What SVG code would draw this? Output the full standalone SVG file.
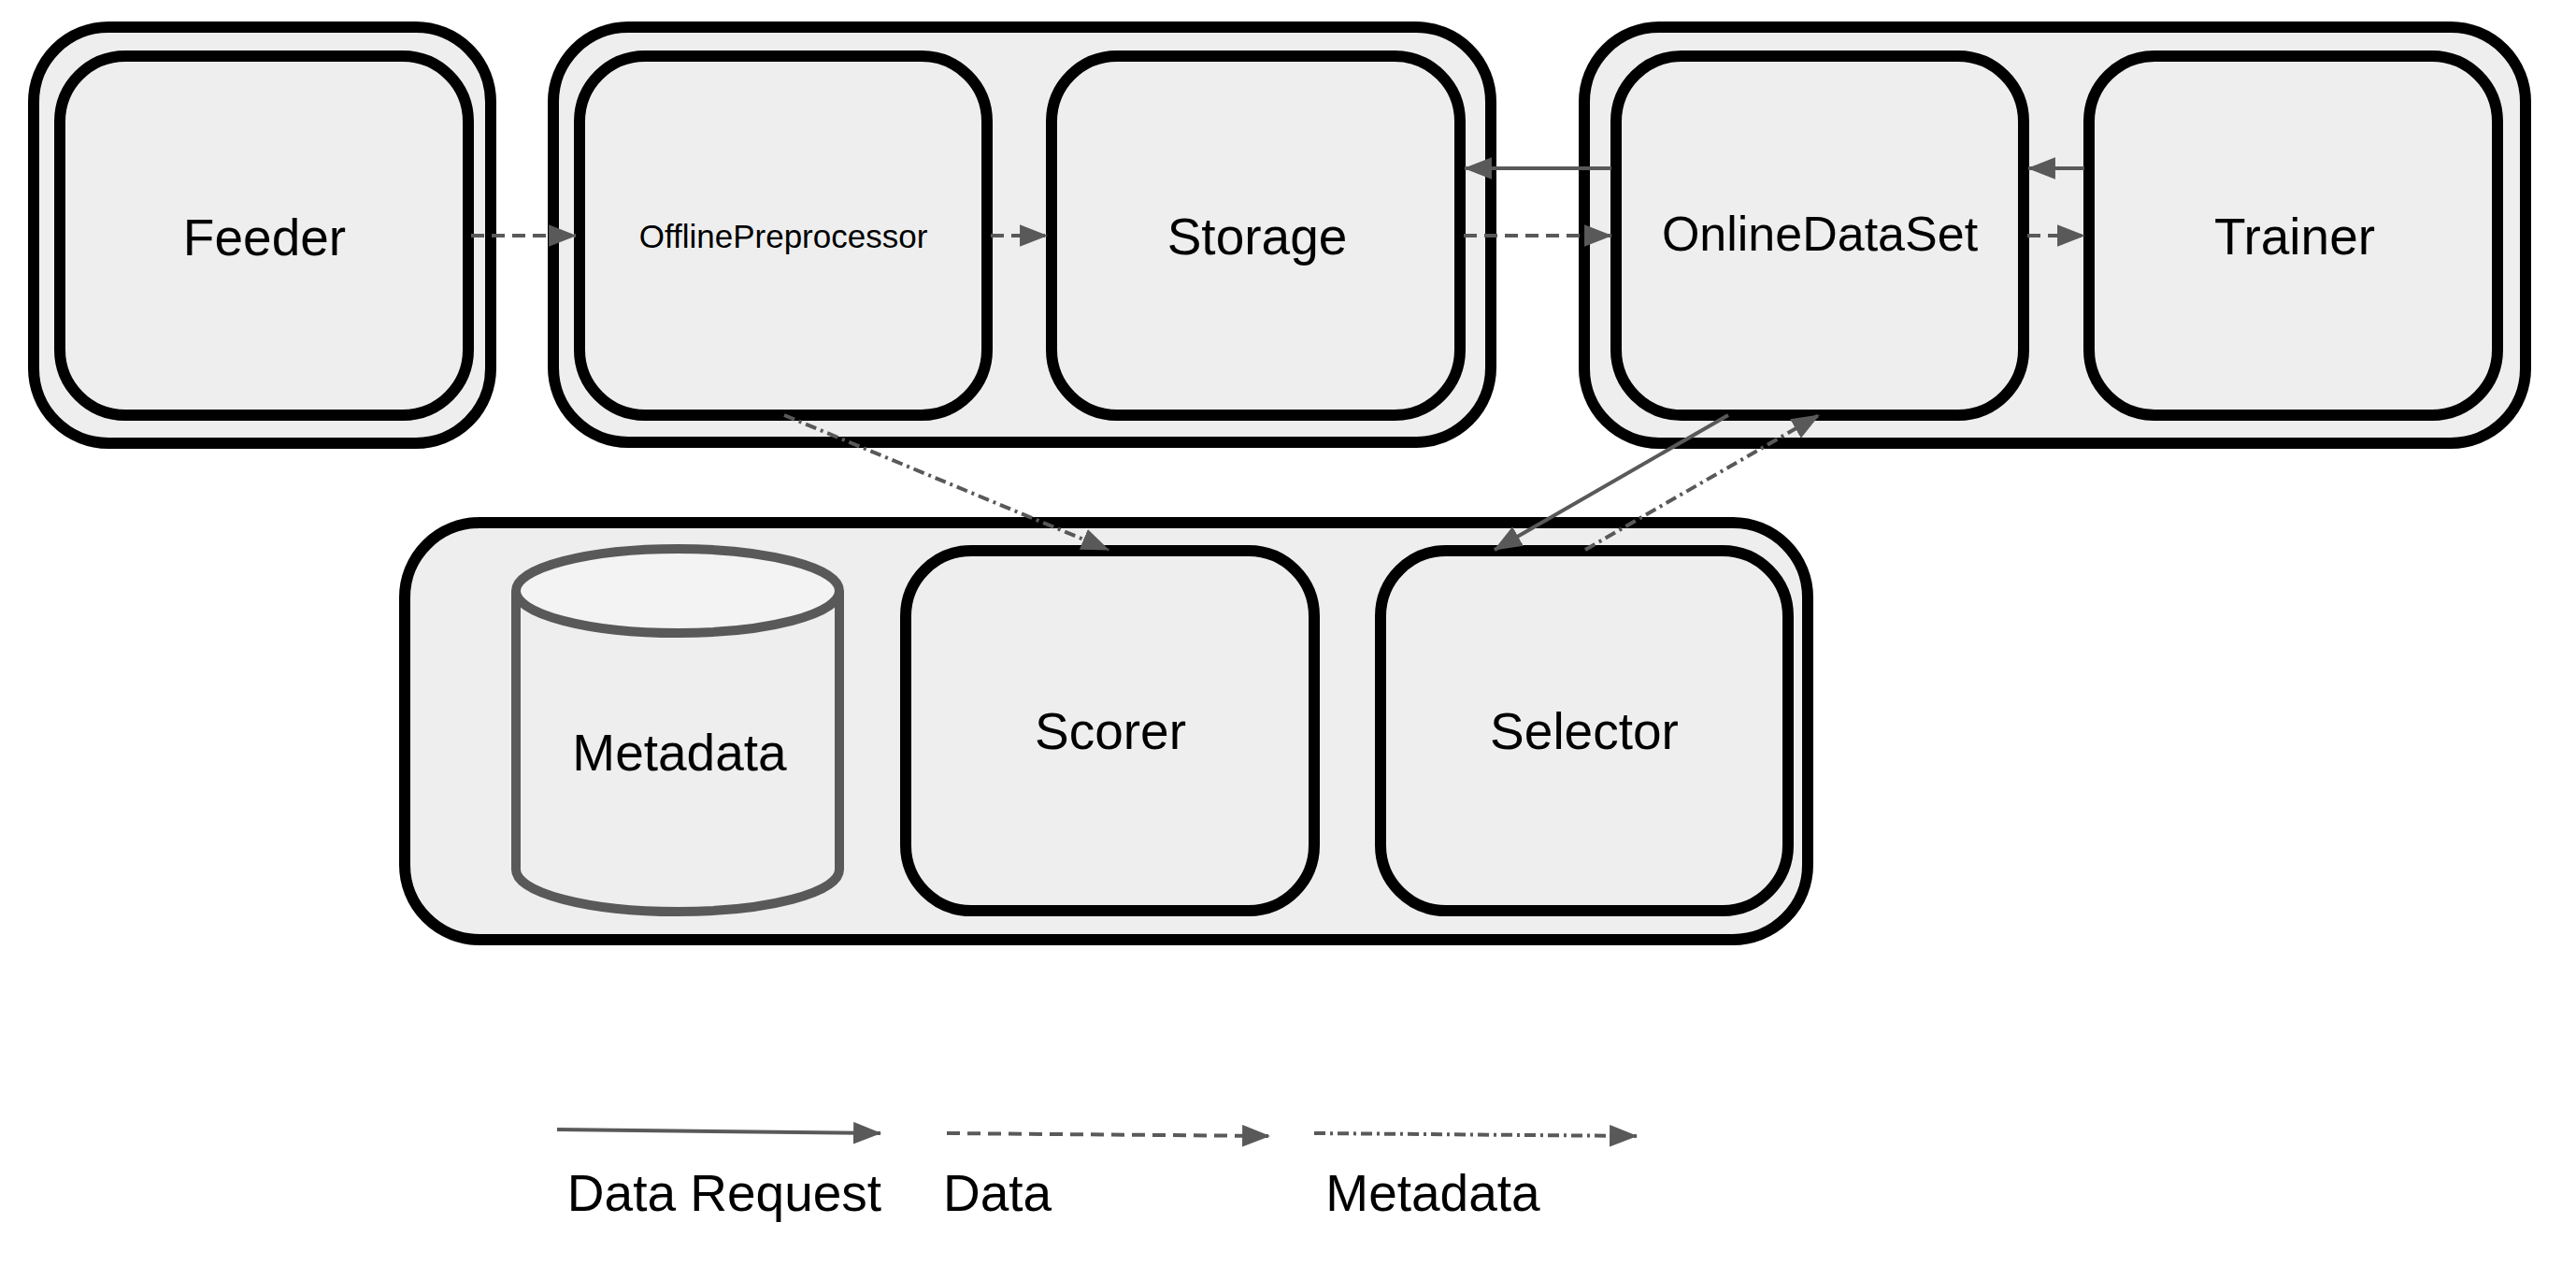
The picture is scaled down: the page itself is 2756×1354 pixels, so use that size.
<svg xmlns="http://www.w3.org/2000/svg" width="2756" height="1354" viewBox="0 0 2756 1354">
<style>
.grp{fill:#eeeeee;stroke:#000;stroke-width:12}
.node{fill:#eeeeee;stroke:#000;stroke-width:12}
.lbl{font-family:"Liberation Sans",Arial,sans-serif;font-size:55px;fill:#000;text-anchor:middle}
.c{fill:none;stroke:#595959;stroke-width:4}
.solid{marker-end:url(#ah)}
.dash{stroke-dasharray:14 8;marker-end:url(#ah)}
.dd{stroke-dasharray:12 5 3 5;marker-end:url(#ah)}
</style>
<defs>
<marker id="ah" markerUnits="userSpaceOnUse" markerWidth="30" markerHeight="24" viewBox="0 0 28 22" refX="27" refY="11" orient="auto">
<path d="M0,0 L28,11 L0,22 Z" fill="#595959"/>
</marker>
</defs>
<rect width="2756" height="1354" fill="#fff"/>
<g id="group-feeder"><rect class="grp" x="36" y="29" width="489" height="445" rx="80"/></g>
<g id="group-offline"><rect class="grp" x="592" y="29" width="1003" height="444" rx="80"/></g>
<g id="group-online"><rect class="grp" x="1695" y="29" width="1007" height="445" rx="80"/></g>
<g id="group-meta"><rect class="grp" x="433" y="559" width="1501" height="446" rx="80"/></g>
<g id="feeder"><rect class="node" x="64" y="60" width="437" height="384" rx="70"/><text class="lbl" x="283" y="273">Feeder</text></g>
<g id="offline"><rect class="node" x="620" y="60" width="436" height="384" rx="70"/><text class="lbl" x="838" y="265" style="font-size:35px">OfflinePreprocessor</text></g>
<g id="storage"><rect class="node" x="1125" y="60" width="437" height="384" rx="70"/><text class="lbl" x="1345" y="272">Storage</text></g>
<g id="onlinedataset"><rect class="node" x="1729" y="60" width="436" height="384" rx="70"/><text class="lbl" x="1947" y="268" style="font-size:52px">OnlineDataSet</text></g>
<g id="trainer"><rect class="node" x="2235" y="60" width="437" height="384" rx="70"/><text class="lbl" x="2455" y="272">Trainer</text></g>
<g id="metadata">
<path d="M552,632 L552,930 A173,45 0 0 0 898,930 L898,632" fill="#eeeeee" stroke="#595959" stroke-width="10"/>
<ellipse cx="725" cy="632" rx="173" ry="45" fill="#f3f3f3" stroke="#595959" stroke-width="10"/>
<text class="lbl" x="727" y="824">Metadata</text>
</g>
<g id="scorer"><rect class="node" x="969" y="589" width="437" height="385" rx="70"/><text class="lbl" x="1188" y="801">Scorer</text></g>
<g id="selector"><rect class="node" x="1477" y="589" width="436" height="385" rx="70"/><text class="lbl" x="1695" y="801">Selector</text></g>
<g id="connectors">
<path class="c dash" d="M504,252 L616,252"/>
<path class="c dash" d="M1060,252 L1120,252"/>
<path class="c dash" d="M1566,252 L1724,252"/>
<path class="c dash" d="M2169,252 L2230,252"/>
<path class="c solid" d="M1724,180 L1567,180"/>
<path class="c solid" d="M2230,180 L2170,180"/>
<path class="c dd" d="M839,444 L1186,588"/>
<path class="c solid" d="M1849,444 L1599,588"/>
<path class="c dd" d="M1696,588 L1946,444"/>
</g>
<g id="legend">
<path class="c solid" d="M596,1208 L942,1212"/>
<path class="c dash" d="M1013,1212 L1358,1215"/>
<path class="c dd" d="M1406,1212 L1751,1215"/>
<text class="lbl" x="775" y="1295">Data Request</text>
<text class="lbl" x="1067" y="1295">Data</text>
<text class="lbl" x="1533" y="1295">Metadata</text>
</g>
</svg>
